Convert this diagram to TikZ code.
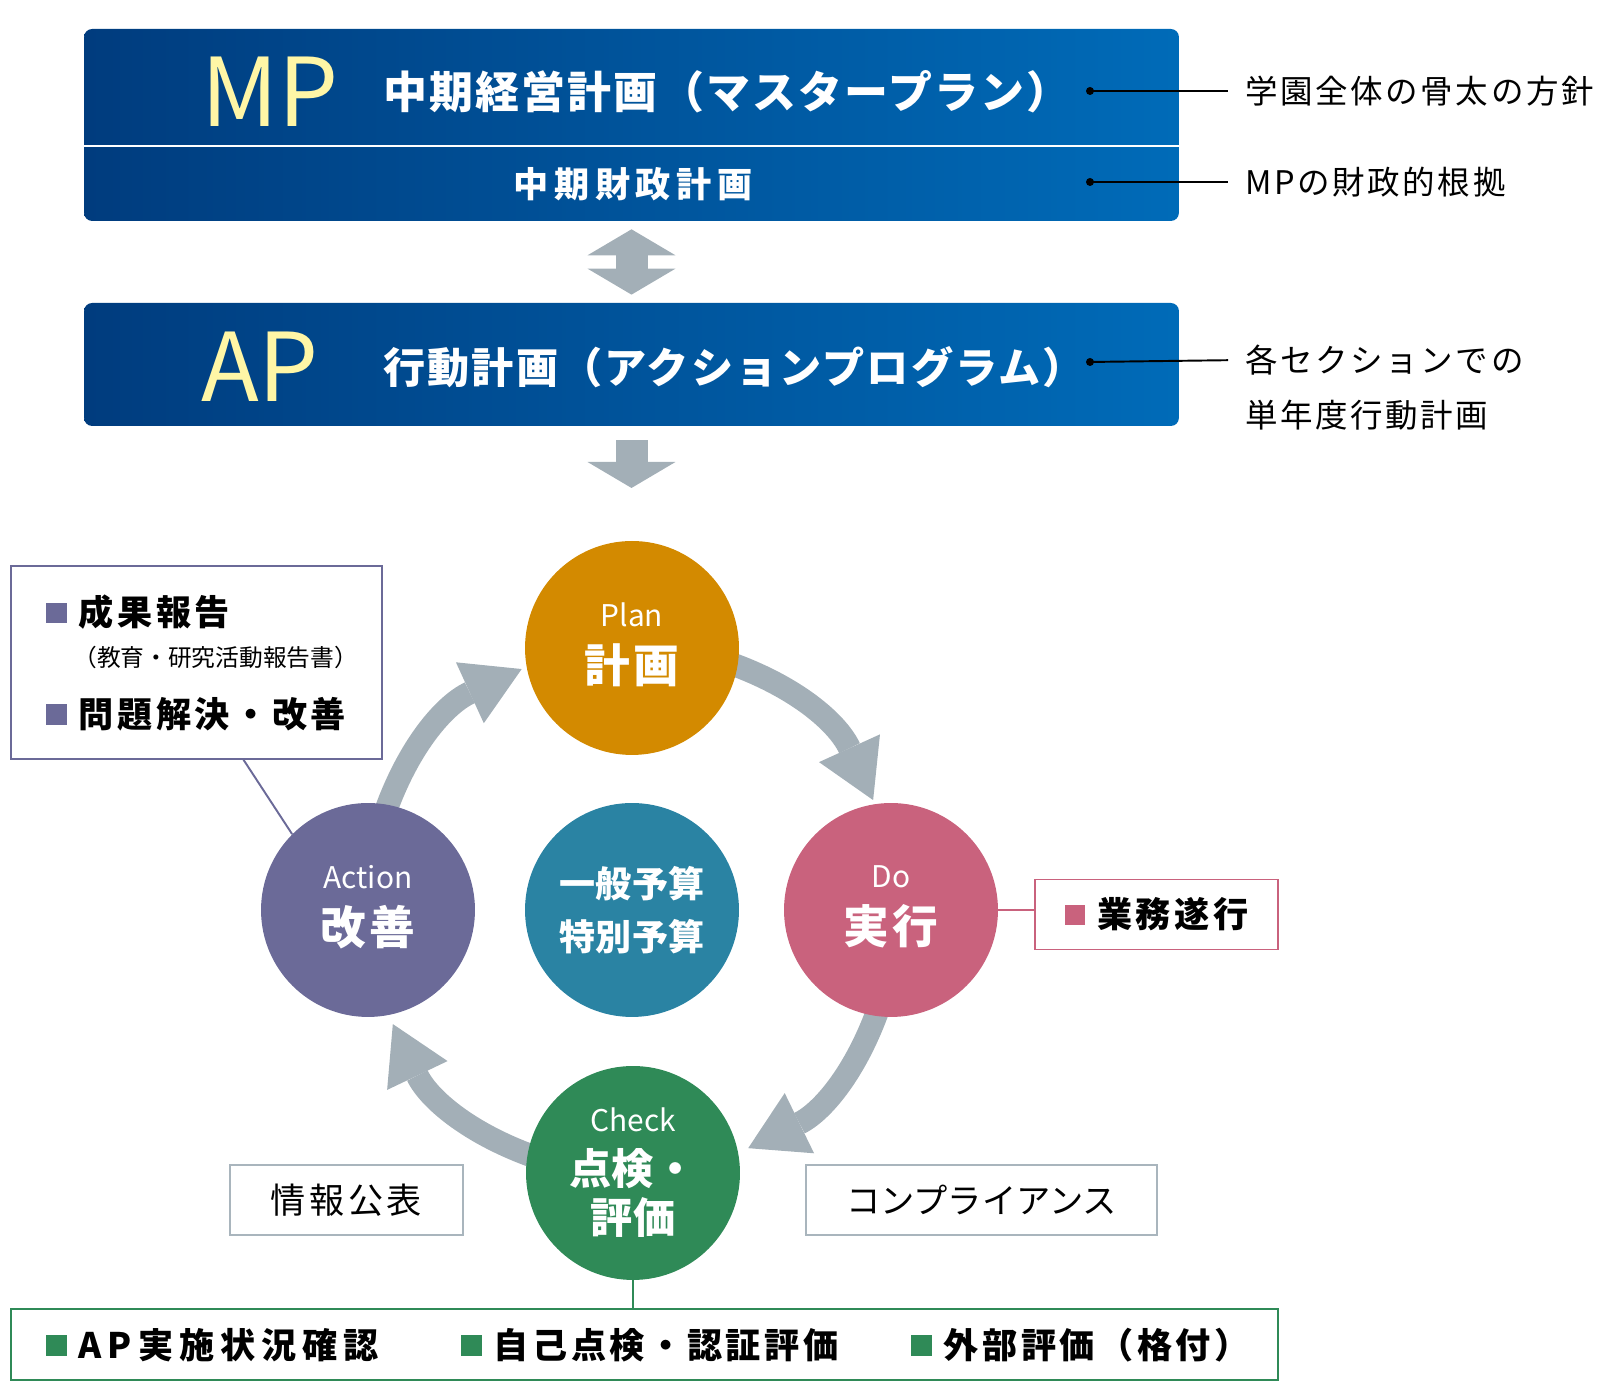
\documentclass[tikz,border=0pt]{standalone}
\usepackage{fontspec}
\setmainfont{Noto Sans CJK JP}
\usepackage{tikz}
\usetikzlibrary{arrows.meta, positioning}

\definecolor{bnL}{HTML}{003C7E}
\definecolor{bnR}{HTML}{006BB8}
\definecolor{mpY}{HTML}{FFF6A6}
\definecolor{planC}{HTML}{D38A00}
\definecolor{doC}{HTML}{C9627D}
\definecolor{chkC}{HTML}{2F8A57}
\definecolor{actC}{HTML}{6B6A98}
\definecolor{hubC}{HTML}{2A83A3}
\definecolor{arwC}{HTML}{A3AFB7}
\definecolor{tagC}{HTML}{A9B5BD}

\newcommand{\bul}[1]{\textcolor{#1}{\rule[1.5pt]{11.5pt}{11.5pt}}\hspace{7pt}}

\tikzstyle{banner} = [rectangle, rounded corners=0.16cm, left color=bnL, right color=bnR, minimum width=21.9cm, inner sep=0pt]
\tikzstyle{phase} = [circle, minimum size=4.28cm, inner sep=0pt, text=white, align=center]
\tikzstyle{cyc} = [line width=0.46cm, draw=arwC, -{Triangle[length=1.14cm, width=1.34cm, line width=0pt]}]
\tikzstyle{fat} = [line width=0.64cm, draw=arwC]
\tikzstyle{tag} = [rectangle, draw, line width=1.1pt, fill=white, minimum height=1.4cm, inner sep=0pt]
\tikzstyle{note} = [anchor=west, inner sep=0pt, font=\fontsize{18.5}{22}\selectfont\addfontfeatures{LetterSpace=8}]
\tikzstyle{item} = [anchor=west, inner sep=0pt, font=\bfseries\fontsize{20}{24}\selectfont\addfontfeatures{LetterSpace=10}]
\tikzstyle{leader} = [line width=1.1pt]
\tikzstyle{solidDot} = [circle, fill=black, inner sep=0pt, minimum size=0.16cm]

\begin{document}
\begin{tikzpicture}[x=0.02cm, y=0.02cm]
\useasboundingbox (0,0) rectangle (1600,1391);

% MP
\node[banner, minimum height=3.84cm] (mp) at (631.5,1266) {};
\draw[white, line width=1.2pt] ([yshift=-2.34cm]mp.north west) -- ([yshift=-2.34cm]mp.north east);
\node[inner sep=0pt, text=mpY, font=\fontsize{54}{60}\selectfont] (mpbig) at (270,1299) {MP};
\node[anchor=west, inner sep=0pt, text=white, font=\bfseries\fontsize{25}{30}\selectfont\addfontfeatures{LetterSpace=5}] (mpname) at (383,1299) {中期経営計画（マスタープラン）};
\node[inner sep=0pt, text=white, font=\bfseries\fontsize{20}{24}\selectfont\addfontfeatures{LetterSpace=16}] (mpfin) at (633,1207) {中期財政計画};

\node[solidDot] (d1) at (1090,1300) {};
\node[solidDot] (d2) at (1090,1209) {};
\node[note] (r1) at (1245,1300) {学園全体の骨太の方針};
\node[note] (r2) at (1245,1209) {MPの財政的根拠};
\draw[leader, shorten >=0.34cm] (d1.center) -- (r1.west);
\draw[leader, shorten >=0.34cm] (d2.center) -- (r2.west);

% AP
\node[banner, minimum height=2.46cm] (ap) at (631.5,1026.5) {};
\node[inner sep=0pt, text=mpY, font=\fontsize{54}{60}\selectfont] (apbig) at (260,1024) {AP};
\node[anchor=west, inner sep=0pt, text=white, font=\bfseries\fontsize{24}{30}\selectfont\addfontfeatures{LetterSpace=5}] (apname) at (383,1024) {行動計画（アクションプログラム）};
\node[solidDot] (d3) at (1090,1029) {};
\node[note] (r3) at (1245,1031) {各セクションでの};
\node[note] (r4) at (1245,976) {単年度行動計画};
\draw[leader, shorten >=0.34cm] (d3.center) -- (r3.west);

\draw[fat, {Triangle[length=0.52cm, width=1.76cm, line width=0pt]}-{Triangle[length=0.52cm, width=1.76cm, line width=0pt]}, shorten <=0.16cm, shorten >=0.16cm] (mp.south) -- (ap.north);
\coordinate (apout) at (631.5,903);
\draw[fat, -{Triangle[length=0.52cm, width=1.76cm, line width=0pt]}, shorten <=0.28cm] (ap.south) -- (apout);

% PDCA ring
\coordinate (ring) at (632,481);
\path (ring) ++(74:265) coordinate (pd1);
\path (ring) ++(24.5:265) coordinate (pd2);
\path (ring) ++(-16:265) coordinate (dc1);
\path (ring) ++(-64:265) coordinate (dc2);
\path (ring) ++(-106:265) coordinate (ca1);
\path (ring) ++(-154.5:265) coordinate (ca2);
\path (ring) ++(164:265) coordinate (ap1);
\path (ring) ++(114.6:265) coordinate (ap2);
\draw[cyc] (pd1) to[bend left=24.75] (pd2);
\draw[cyc] (dc1) to[bend left=24] (dc2);
\draw[cyc] (ca1) to[bend left=24.25] (ca2);
\draw[cyc] (ap1) to[bend left=24.7] (ap2);

\node[phase, fill=planC, font=\fontsize{17}{32}\selectfont] (plan) at (632,743) {Plan\\{\bfseries\fontsize{26}{32}\selectfont\addfontfeatures{LetterSpace=8}計画}\\[-26pt]};
\node[phase, fill=doC, font=\fontsize{17}{32}\selectfont] (do) at (891,481) {Do\\{\bfseries\fontsize{26}{32}\selectfont\addfontfeatures{LetterSpace=8}実行}\\[-26pt]};
\node[phase, fill=chkC, font=\fontsize{17}{28}\selectfont] (check) at (633,218) {Check\\[2pt]{\bfseries\fontsize{24}{28}\selectfont 点検・}\\{\bfseries\fontsize{24}{28}\selectfont 評価}};
\node[phase, fill=actC, font=\fontsize{17}{32}\selectfont] (act) at (368,481) {Action\\{\bfseries\fontsize{26}{32}\selectfont\addfontfeatures{LetterSpace=8}改善}\\[-26pt]};
\node[phase, fill=hubC, font=\bfseries\fontsize{20.5}{30}\selectfont] (hub) at (632,481) {一般予算\\特別予算};

% side boxes
\node[tag, draw=actC, minimum width=7.42cm, minimum height=3.86cm] (rep) at (196.5,728.5) {};
\node[item] (rep1) at (46,779) {\bul{actC}成果報告};
\node[anchor=west, inner sep=0pt, font=\fontsize{13.5}{16}\selectfont] (rep2) at (73,733) {（教育・研究活動報告書）};
\node[item] (rep3) at (46,677) {\bul{actC}問題解決・改善};
\coordinate (rpt) at (243,632);
\draw[actC, line width=1.1pt] (rpt) -- (act.135);

\node[tag, draw=doC, minimum width=4.86cm, font=\bfseries\fontsize{20}{24}\selectfont\addfontfeatures{LetterSpace=10}] (dobox) at (1156.5,476.5) {\bul{doC}業務遂行};
\draw[doC, line width=1.1pt] (do.east) -- (do.east -| dobox.west);

\node[tag, draw=tagC, minimum width=4.66cm, font=\fontsize{20}{24}\selectfont\addfontfeatures{LetterSpace=10}] (info) at (346.5,191) {情報公表};
\node[tag, draw=tagC, minimum width=7.02cm, font=\fontsize{19.5}{24}\selectfont] (comp) at (981.5,191) {コンプライアンス};

\node[tag, draw=chkC, minimum width=25.34cm, minimum height=1.42cm] (chkbox) at (644.5,46.5) {};
\draw[chkC, line width=1.1pt] (check.south) -- (chkbox.north -| check.south);
\node[item, font=\bfseries\fontsize{20}{24}\selectfont\addfontfeatures{LetterSpace=17}] (ck1) at (46,46) {\bul{chkC}AP実施状況確認};
\node[item] (ck2) at (461,46) {\bul{chkC}自己点検・認証評価};
\node[item] (ck3) at (911,46) {\bul{chkC}外部評価（格付）};
\end{tikzpicture}
\end{document}
